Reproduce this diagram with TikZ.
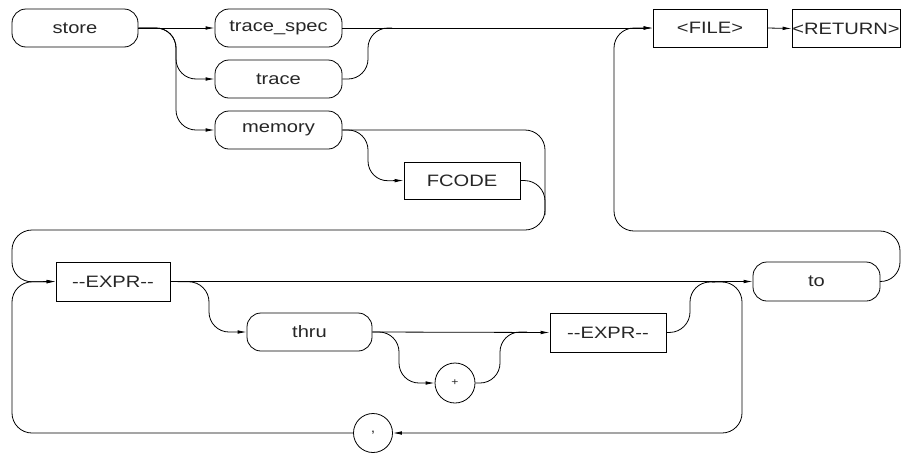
\documentclass[tikz,border=0pt]{standalone}
\usepackage{fontspec}
\setmainfont{Liberation Sans}[FakeStretch=1.22]
\usetikzlibrary{arrows.meta}
\begin{document}
\begin{tikzpicture}[x=1pt,y=-1pt,
  every node/.style={font=\fontsize{16.5}{18}\selectfont, inner sep=0pt, text=black!85},
  term/.style={draw, rounded corners=14pt, minimum height=38pt, minimum width=127pt, line width=0.8pt},
  nterm/.style={draw, rectangle, minimum height=38pt, line width=0.8pt},
  circ/.style={draw, circle, minimum size=40pt, line width=0.8pt, font=\fontsize{10}{12}\selectfont},
  ln/.style={line width=0.8pt},
  conn/.style={line width=0.8pt, rounded corners=20pt},
  arr/.style={-{Latex[length=9pt,width=3.6pt]}}
]
\useasboundingbox (0,0) rectangle (902,453);

% nodes
\node[term, minimum width=126pt] (store) at (75,28) {store};
\node[term] (tspec) at (278.5,28) {trace\_spec};
\node[term] (trace) at (278.5,79) {trace};
\node[term] (memory) at (278.5,130) {memory};
\node[nterm, minimum width=116pt, minimum height=37pt] (fcode) at (462,180.5) {FCODE};
\node[nterm, minimum width=114pt] (file) at (710,28) {<FILE>};
\node[nterm, minimum width=108pt] (ret) at (846,28.5) {<RETURN>};
\node[nterm, minimum width=114pt, minimum height=39pt] (expra) at (113,281.5) {-{}-EXPR-{}-};
\node[term, minimum height=39pt] (tonode) at (816.5,281.5) {to};
\node[term, minimum width=125pt] (thru) at (309.5,332) {thru};
\node[circ] (plus) at (455,383) {+};
\node[nterm, minimum width=116pt, minimum height=39pt] (exprb) at (608,332.5) {-{}-EXPR-{}-};
\node[circ, minimum size=39pt, font=\fontsize{13}{14}\selectfont] (comma) at (373,433) {,};

% junction points
\coordinate (j1) at (392,28);
\coordinate (j2) at (545,215);
\coordinate (j3) at (527,332);
\coordinate (j4) at (715,282);
\coordinate (j5) at (712,282);

% connectors
\draw[ln,arr] (store.east) -- (tspec.west);
\draw[conn,arr] (store.east) -- (176,28) -- (176,79) -- (trace.west);
\draw[conn,arr] (store.east) -- (176,28) -- (176,130) -- (memory.west);
\draw[conn] (trace.east) -- (368,79) -- (368,28) -- (j1);
\draw[ln,arr] (tspec.east) -- (file.west);
\draw[ln,arr] (file.east) -- (ret.west);
\draw[conn,arr] (memory.east) -- (545,130) -- (545,230) -- (12,230) -- (12,282) -- (expra.west);
\draw[conn,arr] (memory.east) -- (368,130) -- (368,181) -- (fcode.west);
\draw[conn] (fcode.east) -- (545,181) -- (j2);
\draw[conn,arr] (tonode.east) -- (900,282) -- (900,231) -- (614,231) -- (614,28) -- (file.west);
\draw[ln,arr] (expra.east) -- (tonode.west);
\draw[conn,arr] (expra.east) -- (209,282) -- (209,332) -- (thru.west);
\draw[ln,arr] (thru.east) -- (exprb.west);
\draw[conn,arr] (thru.east) -- (399,332) -- (399,383) -- (plus.west);
\draw[conn] (plus.east) -- (500,383) -- (500,332) -- (j3);
\draw[conn] (exprb.east) -- (690,332) -- (690,282) -- (j4);
\draw[conn,arr] (j5) -- (742,282) -- (742,433) -- (comma.east);
\draw[conn,arr] (comma.west) -- (12,433) -- (12,282) -- (expra.west);
\end{tikzpicture}
\end{document}
